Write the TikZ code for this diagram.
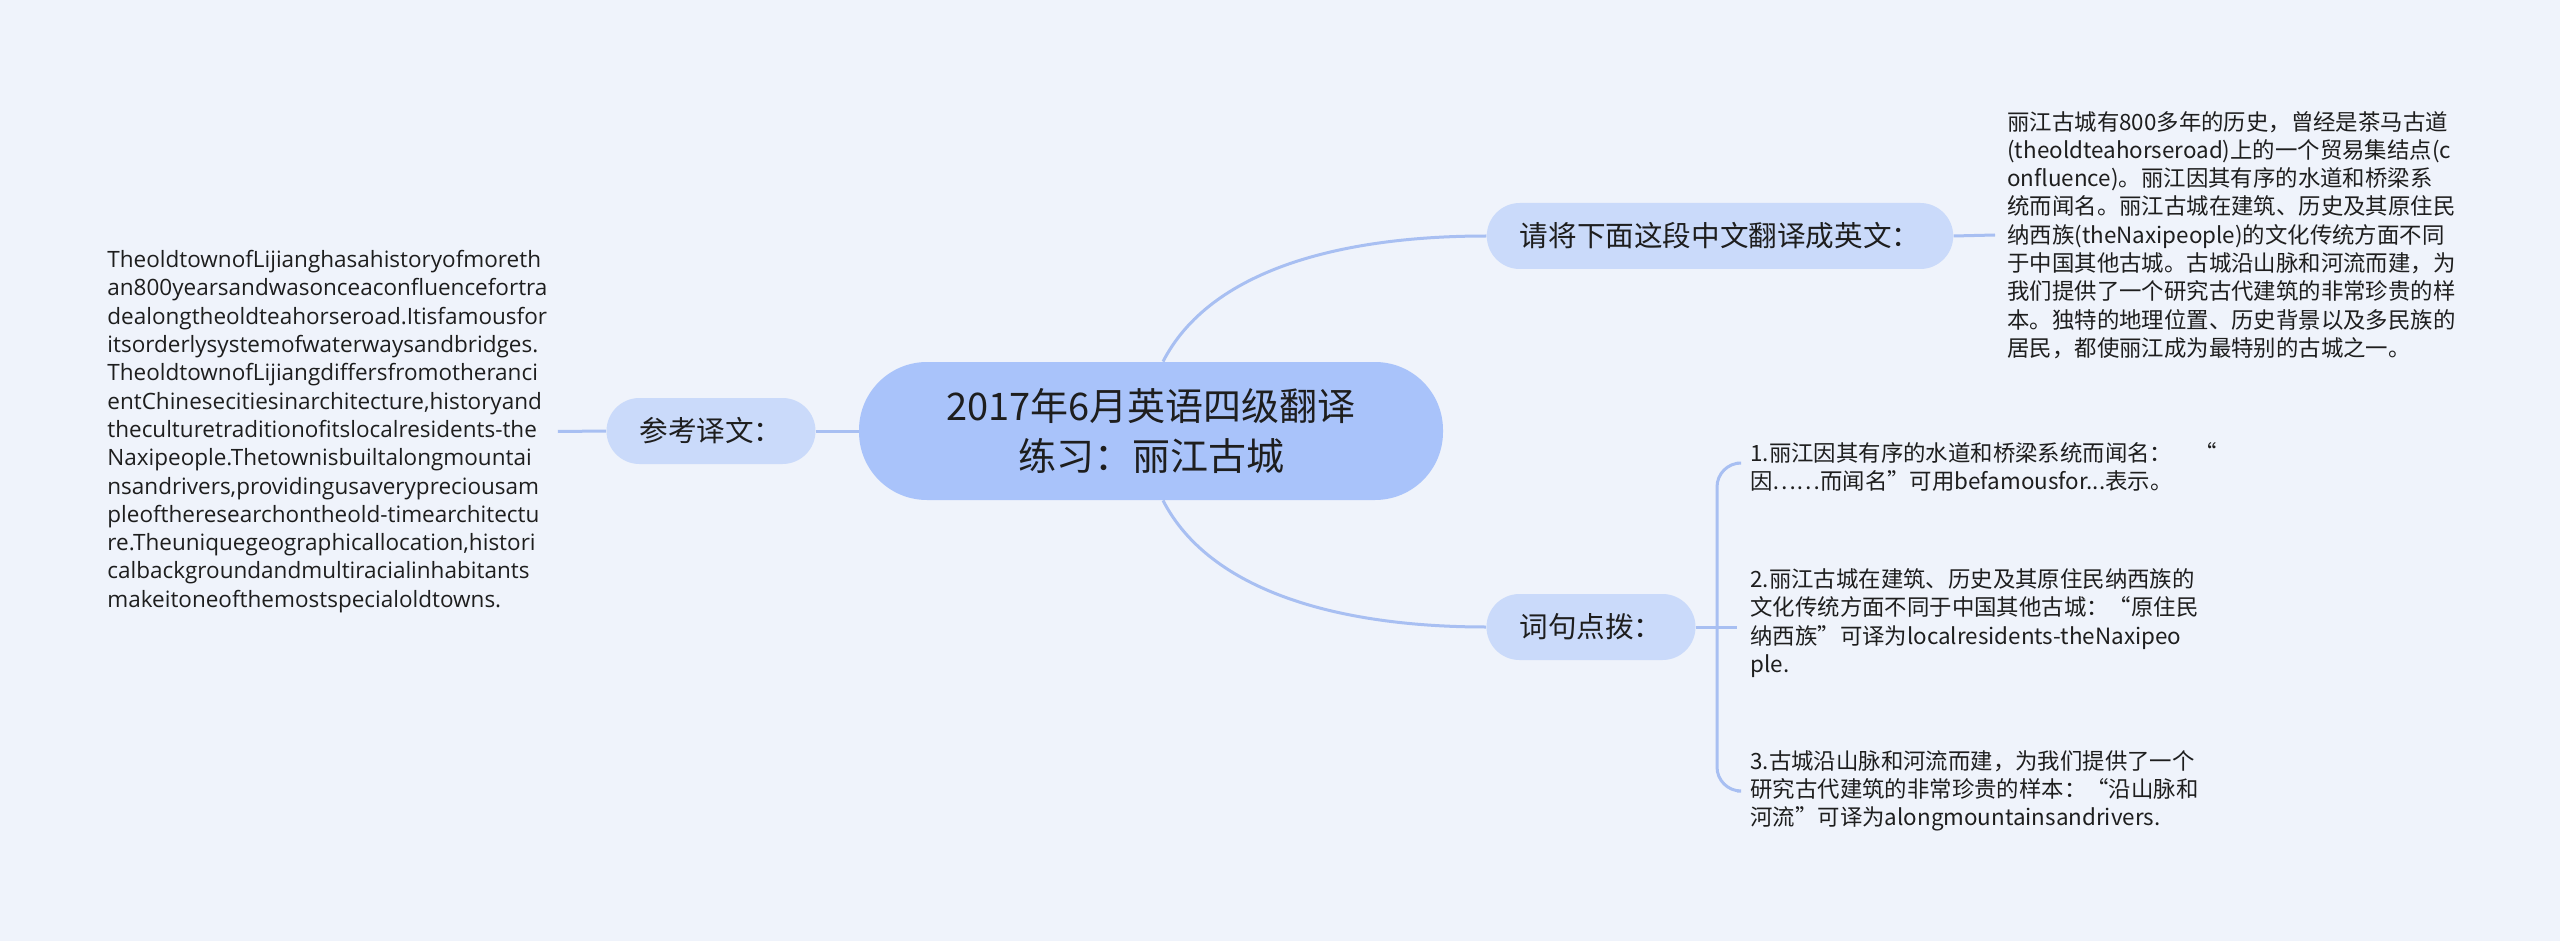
\documentclass[tikz,border=0pt]{standalone}
\usepackage{fontspec}
\setmainfont{Noto Sans CJK SC}
\newfontfamily\latinfont{Open Sans}
\usepackage{tikz}
\usetikzlibrary{calc}
\definecolor{pagebg}{RGB}{239,243,251}
\definecolor{rootfill}{RGB}{169,195,250}
\definecolor{topicfill}{RGB}{202,218,250}
\definecolor{linkblue}{RGB}{168,191,242}
\definecolor{inkgray}{RGB}{30,30,30}

\begin{document}
\begin{tikzpicture}[x=0.5pt,y=-0.5pt,
    root/.style={fill=rootfill, rounded corners=34pt, minimum width=292pt, minimum height=69pt,
      align=center, text=inkgray, font={\fontsize{19}{25}\selectfont}},
    topic/.style={fill=topicfill, rounded corners=16.5pt, minimum height=33pt, inner xsep=16.5pt,
      text=inkgray, font={\fontsize{14.3}{16}\selectfont}},
    note/.style={anchor=west, inner sep=0pt, align=left, text=inkgray,
      font={\fontsize{11.2}{14.15}\selectfont}},
    link/.style={draw=linkblue, line width=1.5pt}]

    % background and page size
    \fill[pagebg] (0,0) rectangle (2560,941);
    \useasboundingbox (0,0) rectangle (2560,941);

    % root
    \node[root] (root) at (1151,431) {2017年6月英语四级翻译\\练习：丽江古城};

    % task
    \node[topic] (task) at (1720,236) {请将下面这段中文翻译成英文：};
    \node[note] (source) at (2007,235) {丽江古城有800多年的历史，曾经是茶马古道\\
      (theoldteahorseroad)上的一个贸易集结点(c\\
      onfluence)。丽江因其有序的水道和桥梁系\\
      统而闻名。丽江古城在建筑、历史及其原住民\\
      纳西族(theNaxipeople)的文化传统方面不同\\
      于中国其他古城。古城沿山脉和河流而建，为\\
      我们提供了一个研究古代建筑的非常珍贵的样\\
      本。独特的地理位置、历史背景以及多民族的\\
      居民，都使丽江成为最特别的古城之一。};

    % reference translation
    \node[topic] (answer) at (711,431) {参考译文：};
    \node[note, font={\latinfont\fontsize{11.25}{14.15}\selectfont}] (english) at (107,431.5)
      {TheoldtownofLijianghasahistoryofmoreth\\
      an800yearsandwasonceaconfluencefortra\\
      dealongtheoldteahorseroad.Itisfamousfor\\
      itsorderlysystemofwaterwaysandbridges.\\
      TheoldtownofLijiangdiffersfromotheranci\\
      entChinesecitiesinarchitecture,historyand\\
      theculturetraditionofitslocalresidents-the\\
      Naxipeople.Thetownisbuiltalongmountai\\
      nsandrivers,providingusaverypreciousam\\
      pleoftheresearchontheold-timearchitectu\\
      re.Theuniquegeographicallocation,histori\\
      calbackgroundandmultiracialinhabitants\\
      makeitoneofthemostspecialoldtowns.};

    % hints
    \node[topic] (hints) at (1591,627) {词句点拨：};
    \node[note] (hintA) at (1750,467) {1.丽江因其有序的水道和桥梁系统而闻名：　“\\
      因……而闻名”可用befamousfor...表示。};
    \node[note] (hintB) at (1750,623) {2.丽江古城在建筑、历史及其原住民纳西族的\\
      文化传统方面不同于中国其他古城：“原住民\\
      纳西族”可译为localresidents-theNaxipeo\\
      ple.};
    \node[note] (hintC) at (1750,791) {3.古城沿山脉和河流而建，为我们提供了一个\\
      研究古代建筑的非常珍贵的样本：“沿山脉和\\
      河流”可译为alongmountainsandrivers.};

    % connectors
    \draw[link] ($(root.north)+(12,0)$) .. controls (1210,270) and (1340,236) .. (task.west);
    \draw[link] ($(root.south)+(12,0)$) .. controls (1210,592) and (1340,627) .. (hints.west);
    \draw[link] (answer.east) -- (root.west);
    \draw[link] (answer.west) -- ($(english.east)+(10,0)$);
    \draw[link] (task.east) -- ($(source.west)+(-12,0)$);

    % bracket for the hints
    \coordinate (spine) at (1717,627);
    \draw[link] (hints.east) -- (spine) -- ++(20,0);
    \draw[link, rounded corners=12pt] ($(hintA.west)+(-13,-4)$) -| (spine) |- ($(hintC.west)+(-13,0)$);

\end{tikzpicture}
\end{document}
